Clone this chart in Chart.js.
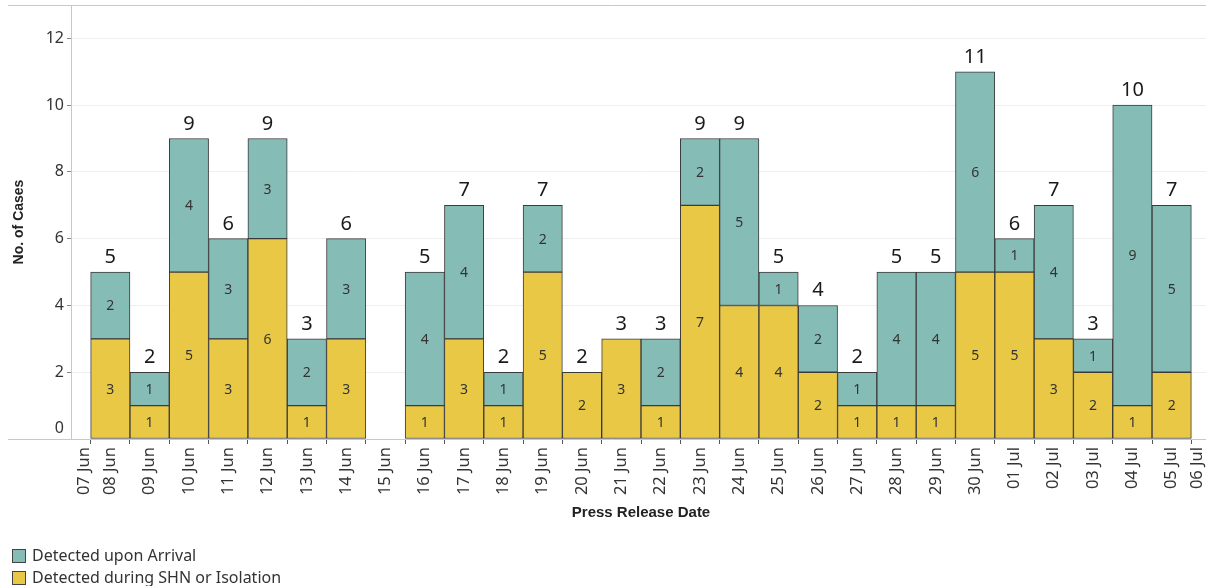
<!DOCTYPE html>
<html><head><meta charset="utf-8">
<script src="https://cdn.jsdelivr.net/npm/chart.js@4"></script>
<style>
html,body{margin:0;padding:0;overflow:hidden;background:#fff;width:1206px;height:586px}
#wrap{position:relative;width:1215px;height:586px}
</style></head>
<body><div id="wrap"><canvas id="c" width="1215" height="586"></canvas></div>
<script>
const dates = ['07 Jun','08 Jun','09 Jun','10 Jun','11 Jun','12 Jun','13 Jun','14 Jun','15 Jun','16 Jun',
  '17 Jun','18 Jun','19 Jun','20 Jun','21 Jun','22 Jun','23 Jun','24 Jun','25 Jun','26 Jun',
  '27 Jun','28 Jun','29 Jun','30 Jun','01 Jul','02 Jul','03 Jul','04 Jul','05 Jul','06 Jul'];
const shnIsolation = [null,3,1,5,3,6,1,3,null,1,3,1,5,2,3,1,7,4,4,2,1,1,1,5,5,3,2,1,2,null];
const uponArrival  = [null,2,1,4,3,3,2,3,null,4,4,1,2,0,0,2,2,5,1,2,1,4,4,6,1,4,1,9,5,null];
const yTicks = [0,2,4,6,8,10,12];
const seriesNames = ['Detected upon Arrival','Detected during SHN or Isolation'];
const TEAL = '#86BCB6', YELLOW = '#E9C846', EDGE = '#3a3a3a';
const TICK_FONT = '16.5px "Noto Sans"';

const labelPlugin = {
  id: 'labels',
  afterDatasetsDraw(chart) {
    const ctx = chart.ctx;
    ctx.save();
    ctx.textAlign = 'center';
    ctx.textBaseline = 'middle';
    ctx.fillStyle = '#333';
    ctx.font = '14px "Noto Sans"';
    chart.data.datasets.forEach((ds, di) => {
      const meta = chart.getDatasetMeta(di);
      meta.data.forEach((bar, i) => {
        const v = ds.data[i];
        if (!v) return;
        ctx.fillText(String(v), bar.x, (bar.y + bar.base) / 2 + 1);
      });
    });
    const topMeta = chart.getDatasetMeta(1);
    ctx.font = '20px "Noto Sans"';
    ctx.fillStyle = '#1a1a1a';
    ctx.textBaseline = 'alphabetic';
    topMeta.data.forEach((bar, i) => {
      const total = (shnIsolation[i] || 0) + (uponArrival[i] || 0);
      if (!total) return;
      ctx.fillText(String(total), bar.x, bar.y - 9);
    });
    ctx.restore();
  },
  afterDraw(chart) {
    const ctx = chart.ctx, a = chart.chartArea;
    ctx.save();
    ctx.strokeStyle = '#c8c8c8';
    ctx.lineWidth = 1;
    ctx.beginPath();
    ctx.moveTo(8, a.top + 0.5); ctx.lineTo(chart.width, a.top + 0.5);
    ctx.moveTo(8, a.bottom + 0.5); ctx.lineTo(chart.width, a.bottom + 0.5);
    ctx.stroke();
    // edge tick labels, nudged inside like the original
    const xs = chart.scales.x;
    const last = dates.length - 1;
    [[0, 13], [last, -14]].forEach(([idx, dx]) => {
      const px = xs.getPixelForTick(idx) + dx;
      ctx.save();
      ctx.translate(px, a.bottom + 5 + 3);
      ctx.rotate(-Math.PI / 2);
      ctx.font = TICK_FONT;
      ctx.fillStyle = '#333';
      ctx.textAlign = 'right';
      ctx.textBaseline = 'middle';
      ctx.fillText(dates[idx], 0, 0);
      ctx.restore();
    });
    // zero label on the y axis, lifted above the baseline like the original
    ctx.font = '16px "Noto Sans"';
    ctx.fillStyle = '#333';
    ctx.textAlign = 'right';
    ctx.textBaseline = 'middle';
    ctx.fillText(String(yTicks[0]), a.left - 7, chart.scales.y.getPixelForValue(yTicks[0]) - 11);
    // legend
    const items = [[seriesNames[0], TEAL], [seriesNames[1], YELLOW]];
    ctx.font = '16px "Noto Sans"';
    ctx.textBaseline = 'middle';
    ctx.textAlign = 'left';
    items.forEach((it, k) => {
      const y = 549 + k * 22;
      ctx.fillStyle = it[1];
      ctx.fillRect(12.5, y + 0.5, 13, 13);
      ctx.strokeStyle = '#444';
      ctx.strokeRect(12.5, y + 0.5, 13, 13);
      ctx.fillStyle = '#333';
      ctx.fillText(it[0], 32, y + 7);
    });
    ctx.restore();
  }
};

new Chart(document.getElementById('c'), {
  type: 'bar',
  data: {
    labels: dates,
    datasets: [
      { label: seriesNames[1], data: shnIsolation, backgroundColor: YELLOW, borderColor: EDGE, borderWidth: 1, borderSkipped: false, barPercentage: 1, categoryPercentage: 1 },
      { label: seriesNames[0], data: uponArrival, backgroundColor: TEAL, borderColor: EDGE, borderWidth: 1, borderSkipped: false, barPercentage: 1, categoryPercentage: 1 }
    ]
  },
  options: {
    responsive: false,
    animation: false,
    devicePixelRatio: 1,
    layout: { padding: { left: 0, right: 4, top: 5, bottom: 60 } },
    plugins: { legend: { display: false }, tooltip: { enabled: false } },
    scales: {
      x: {
        type: 'category', stacked: true, offset: false,
        grid: { drawOnChartArea: false, drawTicks: true, tickLength: 5, color: '#555', tickColor: '#555' },
        border: { display: false },
        ticks: {
          autoSkip: false, maxRotation: 90, minRotation: 90, color: '#333', padding: 3,
          font: { family: 'Noto Sans', size: 16.5 },
          callback(v, i) { return (i === 0 || i === dates.length - 1) ? '' : dates[i]; }
        },
        title: { display: true, text: 'Press Release Date', color: '#222', padding: { top: 4, bottom: 4 }, font: { family: 'Liberation Sans', size: 15, weight: 'bold' } },
        afterFit(s) { s.height = 87; s.paddingLeft = 0; s.paddingRight = 0; }
      },
      y: {
        stacked: true, min: 0, max: 13,
        afterBuildTicks(s) { s.ticks = yTicks.map(v => ({ value: v })); },
        grid: {
          color: (c) => (c.tick && c.tick.value === 0) ? 'rgba(0,0,0,0)' : '#efefef',
          tickColor: (c) => (c.tick && c.tick.value === 0) ? 'rgba(0,0,0,0)' : '#888',
          tickLength: 4, drawTicks: true
        },
        border: { display: true, color: '#c8c8c8' },
        ticks: {
          color: '#333', padding: 3, font: { family: 'Noto Sans', size: 16 },
          callback(v) { return v === 0 ? '' : String(v); }
        },
        title: { display: true, text: 'No. of Cases', color: '#222', padding: { top: 11, bottom: 0 }, font: { family: 'Liberation Sans', size: 14, weight: 'bold' } },
        afterFit(s) { s.width = 71; s.paddingTop = 0; s.paddingBottom = 0; }
      }
    }
  },
  plugins: [labelPlugin]
});
</script>
</body></html>
